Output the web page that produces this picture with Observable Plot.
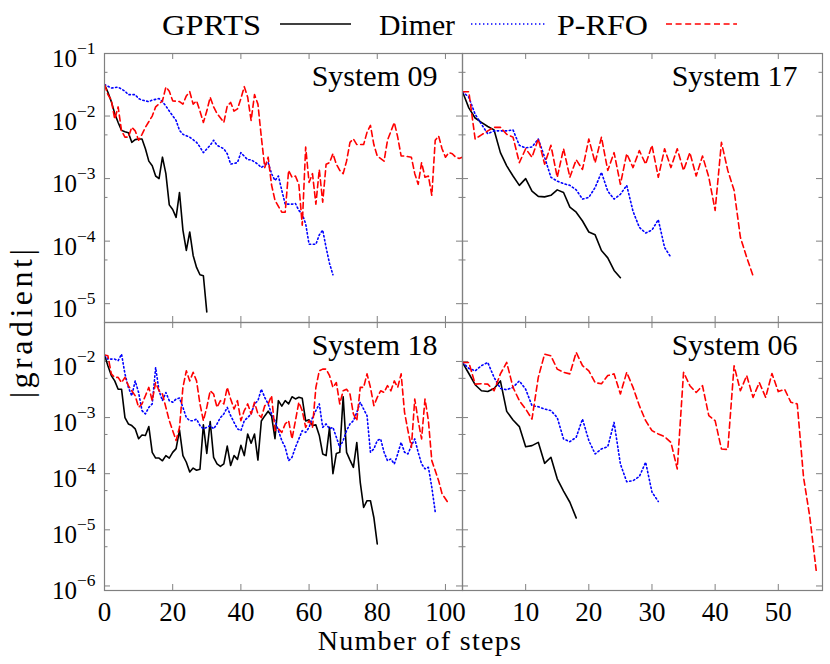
<!DOCTYPE html>
<html><head><meta charset="utf-8">
<script src="https://cdn.jsdelivr.net/npm/d3@7"></script>
<script src="https://cdn.jsdelivr.net/npm/@observablehq/plot@0.6"></script>
<style>
body{margin:0;background:#fff;}
#root{position:relative;width:830px;height:664px;font-family:'Liberation Serif','DejaVu Serif','Times New Roman',serif;overflow:hidden;}
.abs{position:absolute;}
</style></head><body><div id="root"></div>
<script>
const methods = ["GPRTS", "Dimer", "P-RFO"];
const panelTitles = ["System 09", "System 17", "System 18", "System 06"];

// ---- System 09 ----
const s09_gprts = [3.2e-2,2.4e-2,1.7e-2,1.1e-2,7.9e-3,5.9e-3,5.6e-3,5.4e-3,3.8e-3,4.2e-3,4.3e-3,4.3e-3,3.0e-3,1.9e-3,1.6e-3,1.1e-3,1.0e-3,2.2e-3,1.2e-3,3.8e-4,3.2e-4,2.4e-4,6.0e-4,1.5e-4,7.1e-5,1.4e-4,5.9e-5,3.8e-5,2.9e-5,2.8e-5,7.4e-6];
const s09_dimer = [[0,3.2e-2],[2,2.8e-2],[4,2.9e-2],[6,2.5e-2],[7,2.2e-2],[9,2.2e-2],[10,1.9e-2],[11,1.8e-2],[13,1.7e-2],[14,1.8e-2],[16,1.9e-2],[17,1.7e-2],[18,1.45e-2],[19,1.2e-2],[21,8.5e-3],[22,5.9e-3],[23,5.1e-3],[25,4.6e-3],[27,3.8e-3],[28,3.2e-3],[29,2.6e-3],[31,3.4e-3],[32,4.1e-3],[33,3.4e-3],[35,3.0e-3],[36,2.5e-3],[37,1.7e-3],[39,1.8e-3],[40,2.6e-3],[42,2.0e-3],[43,2.0e-3],[45,1.7e-3],[46,1.5e-3],[48,1.8e-3],[49,1.2e-3],[50,9.3e-4],[51,1.1e-3],[52,6.5e-4],[53,3.9e-4],[55,3.9e-4],[56,4.0e-4],[57,3.1e-4],[58,2.7e-4],[59,1.9e-4],[60,8.9e-5],[62,8.9e-5],[63,1.26e-4],[64,1.5e-4],[65,7.9e-5],[66,4.4e-5],[67,2.9e-5]];
const s09_prfo = [[0,3.2e-2],[1,2.2e-2],[2,1.8e-2],[3,8.9e-3],[4,1.4e-2],[5,5.8e-3],[6,4.6e-3],[7,4.6e-3],[8,6.6e-3],[9,5.8e-3],[10,4.1e-3],[11,5.1e-3],[12,6.6e-3],[14,1.0e-2],[15,1.4e-2],[17,1.75e-2],[18,2.9e-2],[19,2.5e-2],[20,1.75e-2],[22,1.7e-2],[23,1.55e-2],[24,2.1e-2],[25,2.45e-2],[26,1.55e-2],[27,1.75e-2],[28,1.2e-2],[29,7.9e-3],[30,1.2e-2],[31,2.0e-2],[32,1.4e-2],[33,1.1e-2],[35,7.9e-3],[36,1.45e-2],[37,1.65e-2],[38,1.2e-2],[39,1.3e-2],[40,1.9e-2],[41,2.95e-2],[42,2.0e-2],[43,8.5e-3],[44,2.2e-2],[45,1.55e-2],[46,4.6e-3],[47,1.5e-3],[48,2.2e-3],[49,7.9e-4],[50,4.5e-4],[52,2.9e-4],[53,2.9e-4],[54,1.35e-3],[55,1.05e-3],[56,1.1e-3],[57,8.1e-4],[58,1.8e-4],[59,3.2e-3],[60,8.7e-4],[61,1.2e-3],[62,3.9e-4],[63,1.4e-3],[64,4.2e-4],[65,1.7e-3],[66,1.8e-3],[67,2.5e-3],[68,1.7e-3],[69,1.35e-3],[70,1.2e-3],[71,1.9e-3],[72,3.8e-3],[73,4.3e-3],[74,3.5e-3],[76,3.5e-3],[77,5.5e-3],[78,7.1e-3],[79,3.5e-3],[80,2.3e-3],[82,1.9e-3],[83,4.1e-3],[85,7.9e-3],[86,4.6e-3],[87,2.3e-3],[88,2.3e-3],[90,2.2e-3],[91,1.2e-3],[92,8.1e-4],[93,1.8e-3],[94,1.05e-3],[95,1.1e-3],[96,5.4e-4],[97,4.1e-3],[98,4.8e-3],[99,3.0e-3],[100,2.2e-3],[101,2.6e-3],[102,2.5e-3],[103,2.2e-3],[104,2.1e-3],[105,2.2e-3]];

// ---- System 17 ----
const s17_gprts = [2.45e-2,1.35e-2,9.3e-3,7.9e-3,6.8e-3,6.0e-3,2.6e-3,1.6e-3,1.1e-3,7.8e-4,1.0e-3,6.3e-4,5.2e-4,5.1e-4,5.4e-4,6.6e-4,6.0e-4,3.5e-4,2.9e-4,2.1e-4,1.4e-4,1.26e-4,7.1e-5,5.4e-5,3.4e-5,2.6e-5];
const s17_dimer = [2.45e-2,2.0e-2,1.07e-2,7.4e-3,5.2e-3,5.8e-3,5.8e-3,5.8e-3,6.0e-3,3.4e-3,3.1e-3,3.2e-3,4.3e-3,2.2e-3,1.05e-3,9.1e-4,8.3e-4,7.8e-4,6.6e-4,4.7e-4,5.0e-4,7.2e-4,1.26e-3,6.3e-4,4.7e-4,5.6e-4,7.8e-4,3.0e-4,1.66e-4,1.35e-4,1.5e-4,2.2e-4,7.9e-5,5.5e-5];
const s17_prfo = [2.45e-2,2.45e-2,4.3e-3,5.0e-3,5.8e-3,6.6e-3,6.6e-3,5.1e-3,4.6e-3,1.8e-3,3.0e-3,2.2e-3,4.3e-3,1.7e-3,3.4e-3,1.05e-3,3.0e-3,1.05e-3,2.0e-3,1.4e-3,4.3e-3,1.8e-3,4.6e-3,1.35e-3,2.6e-3,8.1e-4,2.5e-3,1.5e-3,2.8e-3,1.7e-3,3.4e-3,1.05e-3,3.0e-3,1.5e-3,3.0e-3,1.35e-3,2.6e-3,1.1e-3,2.3e-3,1.05e-3,3.1e-4,3.8e-3,1.35e-3,6.5e-4,1.15e-4,5.5e-5,2.8e-5];

// ---- System 18 ----
const s18_gprts = [1.3e-2,8.4e-3,5.6e-3,4.5e-3,3.2e-3,3.2e-3,1.0e-3,7.7e-4,7.2e-4,6.3e-4,4.2e-4,4.9e-4,4.8e-4,6.9e-4,2.4e-4,1.9e-4,1.9e-4,1.7e-4,2.1e-4,1.9e-4,2.4e-4,2.8e-4,6.0e-4,2.1e-4,1.6e-4,1.07e-4,1.26e-4,1.15e-4,1.2e-4,7.4e-4,2.3e-4,8.5e-4,1.95e-4,1.5e-4,1.35e-4,1.5e-4,3.1e-4,1.4e-4,2.1e-4,1.8e-4,3.2e-4,2.1e-4,5.1e-4,3.5e-4,5.1e-4,1.75e-4,8.7e-4,1.07e-3,1.3e-3,1.07e-3,4.2e-4,2.0e-3,1.6e-3,2.0e-3,1.75e-3,2.35e-3,2.15e-3,2.3e-3,2.2e-3,8.7e-4,9.1e-4,7.2e-4,7.4e-4,4.8e-4,2.25e-4,2.1e-4,6.7e-4,1.0e-4,2.3e-4,2.4e-4,2.35e-3,2.4e-4,1.75e-4,1.3e-4,3.6e-4,7.1e-5,2.5e-5,3.3e-5,3.3e-5,1.66e-5,5.6e-6];
const s18_dimer = [[0,1.3e-2],[1,1.1e-2],[3,1.1e-2],[4,1.03e-2],[5,1.35e-2],[6,6.0e-3],[7,3.45e-3],[8,2.45e-3],[9,4.5e-3],[10,2.8e-3],[11,1.33e-3],[12,1.16e-3],[13,1.52e-3],[14,1.75e-3],[15,7.8e-3],[16,3.0e-3],[17,2.0e-3],[18,2.8e-3],[19,2.0e-3],[20,1.87e-3],[21,2.14e-3],[22,2.23e-3],[23,1.52e-3],[24,1.0e-3],[25,8.8e-4],[26,8.8e-4],[27,9.4e-4],[28,7.2e-4],[29,6.3e-4],[30,6.7e-4],[31,7.2e-4],[32,6.3e-4],[33,7.7e-4],[34,1.0e-3],[35,1.16e-3],[36,1.52e-3],[37,1.08e-3],[38,8.2e-4],[39,6.3e-4],[40,5.85e-4],[41,8.8e-4],[42,1.0e-3],[43,1.16e-3],[44,1.75e-3],[45,2.0e-3],[46,3.2e-3],[47,2.29e-3],[48,1.75e-3],[49,1.16e-3],[50,8.8e-4],[51,5.85e-4],[52,3.9e-4],[53,2.95e-4],[54,1.71e-4],[55,1.96e-4],[56,2.95e-4],[57,4.16e-4],[58,5.85e-4],[59,5.45e-4],[60,6.7e-4],[61,1.0e-3],[62,1.33e-3],[63,1.75e-3],[64,6.7e-4],[65,7.7e-4],[66,6.3e-4],[67,6.7e-4],[68,4.45e-4],[69,2.95e-4],[70,3.9e-4],[71,5.85e-4],[72,7.7e-4],[73,8.8e-4],[74,1.24e-3],[75,1.87e-3],[76,1.42e-3],[77,1.08e-3],[78,2.41e-4],[79,2.76e-4],[80,3.9e-4],[81,4.16e-4],[82,2.41e-4],[83,1.71e-4],[84,1.83e-4],[85,1.49e-4],[86,2.25e-4],[87,3.62e-4],[88,2.41e-4],[89,2.25e-4],[90,3.16e-4],[91,4.16e-4],[92,2.41e-4],[93,1.49e-4],[94,1.22e-4],[95,1.3e-4],[96,5.7e-5],[97,2.1e-5]];
const s18_prfo = [[0,1.3e-2],[1,1.26e-2],[2,6.0e-3],[3,5.2e-3],[4,5.2e-3],[5,4.2e-3],[6,5.2e-3],[7,3.7e-3],[8,3.0e-3],[9,2.45e-3],[10,1.52e-3],[11,1.75e-3],[12,2.45e-3],[13,3.45e-3],[14,2.0e-3],[15,4.2e-3],[16,3.0e-3],[17,2.63e-3],[18,1.52e-3],[19,8.8e-4],[20,5.85e-4],[21,3.9e-4],[22,6.7e-4],[23,3.45e-3],[24,6.8e-3],[25,4.5e-3],[26,6.4e-3],[27,4.5e-3],[28,1.75e-3],[29,8.8e-4],[30,1.52e-3],[31,3.0e-3],[32,2.63e-3],[33,1.52e-3],[34,2.0e-3],[35,1.75e-3],[36,3.45e-3],[37,2.14e-3],[38,1.42e-3],[39,2.0e-3],[40,8.8e-4],[41,1.33e-3],[42,1.75e-3],[43,1.16e-3],[44,1.87e-3],[45,1.16e-3],[46,1.0e-3],[47,1.63e-3],[48,1.75e-3],[49,2.45e-3],[50,5.85e-4],[51,6.3e-4],[52,5.45e-4],[53,7.7e-4],[54,8.8e-4],[55,4.16e-4],[56,8.8e-4],[57,1.87e-3],[58,1.33e-3],[59,6.7e-4],[60,8.8e-4],[61,6.7e-4],[62,3.45e-3],[63,6.8e-3],[64,7.3e-3],[65,7.3e-3],[66,5.6e-3],[67,3.45e-3],[68,4.2e-3],[69,1.75e-3],[70,3.0e-3],[71,3.2e-3],[72,2.63e-3],[73,1.16e-3],[74,8.8e-4],[75,3.45e-3],[76,3.45e-3],[77,6.0e-3],[78,3.45e-3],[79,1.63e-3],[80,2.29e-3],[81,3.0e-3],[82,2.8e-3],[83,3.7e-3],[84,3.0e-3],[85,4.5e-3],[86,3.45e-3],[87,6.0e-3],[88,1.24e-3],[89,5.85e-4],[90,2.95e-4],[91,2.14e-3],[92,8.8e-4],[93,4.16e-4],[94,2.14e-3],[95,8.8e-4],[96,1.71e-4],[98,7.5e-5],[99,4.4e-5],[101,2.9e-5]];

// ---- System 06 ----
const s06_gprts = [9.6e-3,6.1e-3,3.85e-3,3.0e-3,2.92e-3,3.3e-3,4.5e-3,1.29e-3,9.05e-4,6.9e-4,3.03e-4,3.16e-4,3.62e-4,1.53e-4,1.96e-4,8.1e-5,4.9e-5,3.1e-5,1.63e-5];
const s06_dimer = [9.6e-3,7.5e-3,6.8e-3,8.4e-3,9.6e-3,5.2e-3,3.3e-3,3.13e-3,3.45e-3,4.5e-3,3.2e-3,1.63e-3,1.56e-3,1.42e-3,1.33e-3,1.0e-3,4.16e-4,3.72e-4,4.45e-4,9.4e-4,3.9e-4,2.25e-4,2.76e-4,3.03e-4,8.2e-4,1.49e-4,7.2e-5,7.5e-5,8.9e-5,1.6e-4,4.7e-5,3.2e-5];
const s06_prfo = [9.6e-3,9.6e-3,3.95e-3,4.0e-3,3.95e-3,3.0e-3,6.0e-3,9.6e-3,3.45e-3,2.0e-3,1.42e-3,9.4e-4,5.2e-3,1.35e-2,1.26e-2,7.3e-3,6.4e-3,6.0e-3,1.45e-2,8.4e-3,6.8e-3,4.2e-3,4.0e-3,5.6e-3,6.0e-3,2.63e-3,6.4e-3,3.45e-3,1.63e-3,8.8e-4,5.85e-4,5.1e-4,4.57e-4,3.62e-4,1.22e-4,6.4e-3,3.7e-3,2.8e-3,3.7e-3,1.08e-3,8.8e-4,2.76e-4,2.7e-4,8.4e-3,3.0e-3,5.6e-3,2.29e-3,4.2e-3,2.29e-3,6.1e-3,2.9e-3,3.2e-3,1.87e-3,1.75e-3,8.6e-5,1.67e-5,1.9e-6];

// ---- axes ----
const xTicksLeft = [0, 20, 40, 60, 80, 100];
const xTicksRight = [10, 20, 30, 40, 50];
const yMajorTop = [1e-5, 1e-4, 1e-3, 1e-2, 1e-1];
const yMinorTop = [5e-6, 5e-5, 5e-4, 5e-3, 5e-2];
const yMajorBottom = [1e-6, 1e-5, 1e-4, 1e-3, 1e-2];
const yMinorBottom = [5e-6, 5e-5, 5e-4, 5e-3];
const xDomainLeft = [0, 105], xDomainRight = [0, 57];
const yDomainTop = [5e-6, 0.1], yDomainBottom = [8.3e-7, 0.0494];

const FONT = "'Liberation Serif', 'DejaVu Serif', 'Times New Roman', serif";
const colors = {"GPRTS": "#000000", "Dimer": "#0000ff", "P-RFO": "#ff0000"};
const dashes = {"GPRTS": null, "Dimer": "1.4,2.6", "P-RFO": "6,3.6"};
const widths = {"GPRTS": 1.6, "Dimer": 1.6, "P-RFO": 1.6};

function seq(method, vals) { return vals.map((v, i) => ({method, step: i, grad: v})); }
function pairs(method, arr) { return arr.map(([s, v]) => ({method, step: s, grad: v})); }

const panels = [
  {title: panelTitles[0], data: [...seq("GPRTS", s09_gprts), ...pairs("Dimer", s09_dimer), ...pairs("P-RFO", s09_prfo)],
   xDomain: xDomainLeft, yDomain: yDomainTop, xTicks: xTicksLeft, yMajor: yMajorTop, yMinor: yMinorTop,
   pos: {left: 0, top: 0, width: 462, height: 322}, frame: {x0: 104, x1: 462, y0: 53, y1: 322}, xLab: false, yLab: true},
  {title: panelTitles[1], data: [...seq("GPRTS", s17_gprts), ...seq("Dimer", s17_dimer), ...seq("P-RFO", s17_prfo)],
   xDomain: xDomainRight, yDomain: yDomainTop, xTicks: xTicksRight, yMajor: yMajorTop, yMinor: yMinorTop,
   pos: {left: 462, top: 0, width: 368, height: 322}, frame: {x0: 462, x1: 822, y0: 53, y1: 322}, xLab: false, yLab: false},
  {title: panelTitles[2], data: [...seq("GPRTS", s18_gprts), ...pairs("Dimer", s18_dimer), ...pairs("P-RFO", s18_prfo)],
   xDomain: xDomainLeft, yDomain: yDomainBottom, xTicks: xTicksLeft, yMajor: yMajorBottom, yMinor: yMinorBottom,
   pos: {left: 0, top: 322, width: 462, height: 342}, frame: {x0: 104, x1: 462, y0: 322, y1: 590}, xLab: true, yLab: true},
  {title: panelTitles[3], data: [...seq("GPRTS", s06_gprts), ...seq("Dimer", s06_dimer), ...seq("P-RFO", s06_prfo)],
   xDomain: xDomainRight, yDomain: yDomainBottom, xTicks: xTicksRight, yMajor: yMajorBottom, yMinor: yMinorBottom,
   pos: {left: 462, top: 322, width: 368, height: 342}, frame: {x0: 462, x1: 822, y0: 322, y1: 590}, xLab: true, yLab: false}
];

const root = document.getElementById("root");
const FRAME = "#808080";

for (const p of panels) {
  const {left, top, width, height} = p.pos;
  const f = p.frame;
  const mL = f.x0 - left, mR = left + width - f.x1, mT = f.y0 - top, mB = top + height - f.y1;
  const fw = f.x1 - f.x0, fh = f.y1 - f.y0;
  const marks = [
    Plot.tickX(p.xTicks, {x: d => d, insetTop: fh - 6, stroke: FRAME}),
    Plot.tickX(p.xTicks, {x: d => d, insetBottom: fh - 6, stroke: FRAME}),
    Plot.tickY(p.yMajor, {y: d => d, insetRight: fw - 6, stroke: FRAME}),
    Plot.tickY(p.yMajor, {y: d => d, insetLeft: fw - 6, stroke: FRAME}),
    Plot.tickY(p.yMinor, {y: d => d, insetRight: fw - 3.5, stroke: FRAME}),
    Plot.tickY(p.yMinor, {y: d => d, insetLeft: fw - 3.5, stroke: FRAME}),
    ...methods.map(m => Plot.line(p.data.filter(d => d.method === m), {
      x: "step", y: "grad", stroke: colors[m], strokeWidth: widths[m], strokeDasharray: dashes[m], clip: true
    })),
    Plot.frame({stroke: FRAME, strokeWidth: 1.2}),
    Plot.text([p.title], {frameAnchor: "top-right", dx: -25, dy: 11, lineAnchor: "top", fontSize: 30, fontFamily: FONT, fill: "#000"})
  ];
  if (p.xLab) marks.push(Plot.axisX(p.xTicks, {tickSize: 0, tickPadding: 11, fontSize: 27, fontFamily: FONT, color: "#000", label: null}));
  if (p.yLab) marks.push(Plot.axisY(p.yMajor, {tickSize: 0, tickPadding: 9, fontSize: 25, fontFamily: FONT, color: "#000", dy: 5.5, label: null,
    tickFormat: d => "10^" + Math.round(Math.log10(d))}));
  const svg = Plot.plot({
    width, height, marginLeft: mL, marginRight: mR, marginTop: mT, marginBottom: mB,
    x: {domain: p.xDomain, axis: p.xLab ? undefined : null, label: null},
    y: {type: "log", domain: p.yDomain, axis: p.yLab ? undefined : null, label: null},
    style: {background: "transparent", overflow: "visible", fontFamily: FONT, color: "#000"},
    marks
  });
  svg.style.position = "absolute";
  svg.style.left = left + "px";
  svg.style.top = top + "px";
  svg.style.overflow = "visible";
  // superscript exponents on log tick labels
  d3.select(svg).selectAll('g[aria-label="y-axis tick label"] text').each(function() {
    const t = this.textContent;
    if (!t.includes("^")) return;
    const [b, e] = t.split("^");
    const sel = d3.select(this);
    sel.text(null);
    sel.append("tspan").text(b);
    sel.append("tspan").attr("dy", -13).attr("font-size", 17.5).text(e.replace("-", "\u2212"));
  });
  root.appendChild(svg);
}

// legend (above the panels)
const leg = d3.select(root).append("svg").attr("width", 830).attr("height", 50)
  .style("position", "absolute").style("left", "0px").style("top", "0px");
const legItems = [
  {label: methods[0], tx: 162, tl: 99, x1: 280, x2: 351},
  {label: methods[1], tx: 379, tl: 76, x1: 471, x2: 545},
  {label: methods[2], tx: 557, tl: 91, x1: 666, x2: 737}
];
for (const it of legItems) {
  leg.append("text").attr("x", it.tx).attr("y", 35).style("font-family", FONT).attr("font-size", 29.5)
    .attr("textLength", it.tl).attr("lengthAdjust", "spacingAndGlyphs").text(it.label);
  leg.append("line").attr("x1", it.x1).attr("x2", it.x2).attr("y1", 24).attr("y2", 24)
    .attr("stroke", colors[it.label]).attr("stroke-width", widths[it.label])
    .attr("stroke-dasharray", dashes[it.label]);
}

// axis titles
const xt = document.createElement("div");
xt.className = "abs";
xt.textContent = "Number of steps";
Object.assign(xt.style, {left: "300px", top: "627px", width: "240px", textAlign: "center", fontSize: "28px",
  letterSpacing: "1.3px", fontFamily: FONT, lineHeight: "28px", whiteSpace: "nowrap"});
root.appendChild(xt);

const yt = document.createElement("div");
yt.className = "abs";
yt.textContent = "|gradient|";
Object.assign(yt.style, {left: "21px", top: "322px", fontSize: "32px", fontFamily: FONT, lineHeight: "32px",
  whiteSpace: "nowrap", letterSpacing: "3.5px", transform: "translate(-50%,-50%) rotate(-90deg)", transformOrigin: "center"});
root.appendChild(yt);
</script></body></html>
